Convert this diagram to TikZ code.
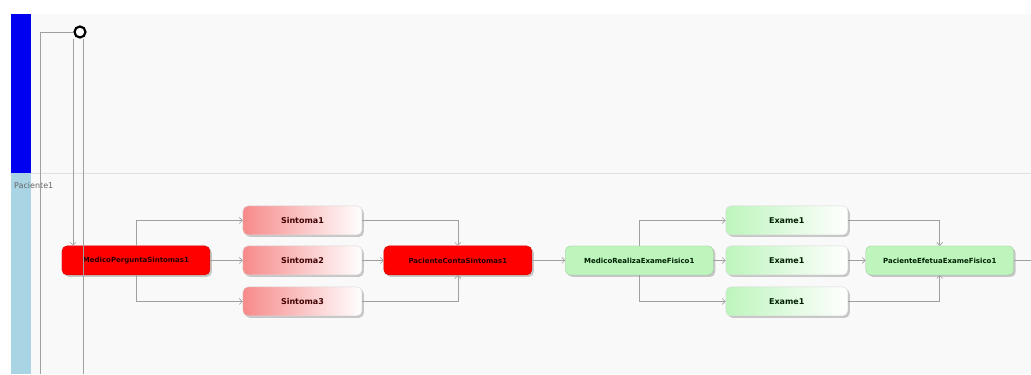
\documentclass[tikz,border=0pt]{standalone}
\usepackage{fontspec}
\setmainfont{DejaVu Sans}
\usetikzlibrary{arrows.meta,shadows}
\definecolor{lanebg}{HTML}{F9F9F9}
\definecolor{laneblue}{HTML}{0000F0}
\definecolor{lanelight}{HTML}{A8D4E4}
\definecolor{conncol}{HTML}{A0A0A0}
\definecolor{actred}{HTML}{FF0000}
\definecolor{actpink}{HTML}{F78A8A}
\definecolor{actgreen}{HTML}{BDF5BD}
\tikzset{
  actbase/.style={rounded corners=5pt, minimum height=29pt, inner sep=0pt,
    font=\fontsize{7}{8}\selectfont\bfseries,
    drop shadow={shadow xshift=2pt, shadow yshift=-2pt, fill=black!35, opacity=0.6}},
  redact/.style={actbase, fill=actred, draw=actred!85!black, line width=0.4pt,
    minimum width=148pt, text=black!85!red},
  pinkact/.style={actbase, left color=actpink, right color=white, draw=black!15,
    minimum width=119pt, text=black!75!red, font=\fontsize{8}{9}\selectfont\bfseries},
  greenact/.style={actbase, fill=actgreen, draw=actgreen!80!black, line width=0.3pt,
    minimum width=148pt, text=black!70!green!40!black},
  lgreenact/.style={actbase, left color=actgreen, right color=white, draw=black!15,
    minimum width=122pt, text=black!70!green!40!black, font=\fontsize{8}{9}\selectfont\bfseries},
  conn/.style={draw=conncol, line width=0.6pt},
  arr/.style={conn, -{Straight Barb[length=3pt,width=6pt]}},
  startnode/.style={circle, draw=black, line width=2.2pt, minimum size=11pt, inner sep=0pt, fill=white}
}
\begin{document}
\begin{tikzpicture}[x=1pt,y=-1pt]
  % canvas and lanes
  \path[fill=white] (0,0) rectangle (1031,374);
  \path[fill=lanebg] (31,14) rectangle (1031,374);
  \path[fill=laneblue] (11,14) rectangle (31,173);
  \path[fill=lanelight] (11,173) rectangle (31,374);
  \draw[black!12, line width=0.6pt] (31,173) -- (1031,173);
  \node[anchor=west, inner sep=0pt, font=\fontsize{8}{9}\selectfont, text=black!60] (lane) at (14,186) {Paciente1};

  % activities
  \node[startnode] (start) at (80,32) {};
  \node[redact] (mp) at (136,260.5) {MedicoPerguntaSintomas1};
  \node[pinkact] (s1) at (302.5,220.5) {Sintoma1};
  \node[pinkact] (s2) at (302.5,260.5) {Sintoma2};
  \node[pinkact] (s3) at (302.5,301.5) {Sintoma3};
  \node[redact] (pc) at (458,260.5) {PacienteContaSintomas1};
  \node[greenact] (mr) at (639.5,260.5) {MedicoRealizaExameFisico1};
  \node[lgreenact] (e1) at (787,220.5) {Exame1};
  \node[lgreenact] (e2) at (787,260.5) {Exame1};
  \node[lgreenact] (e3) at (787,301.5) {Exame1};
  \node[greenact] (pe) at (940,260.5) {PacienteEfetuaExameFisico1};

  % free ends
  \coordinate (leftend) at (40,374);
  \coordinate (midend) at (83,374);
  \coordinate (outend) at (1031,260.5);

  % connectors from the start node
  \draw[conn] (start.west) -| (leftend);
  \draw[arr] ([xshift=-7pt]start.south) -- ([xshift=-7pt]start.south |- mp.north);
  \draw[conn] ([xshift=3pt]start.south) -- ([xshift=3pt]start.south |- midend);

  % first fork and join
  \draw[arr] (mp.north) |- (s1.west);
  \draw[arr] (mp.east) -- (s2.west);
  \draw[arr] (mp.south) |- (s3.west);
  \draw[arr] (s1.east) -| (pc.north);
  \draw[arr] (s2.east) -- (pc.west);
  \draw[arr] (s3.east) -| (pc.south);
  \draw[arr] (pc.east) -- (mr.west);

  % second fork and join
  \draw[arr] (mr.north) |- (e1.west);
  \draw[arr] (mr.east) -- (e2.west);
  \draw[arr] (mr.south) |- (e3.west);
  \draw[arr] (e1.east) -| (pe.north);
  \draw[arr] (e2.east) -- (pe.west);
  \draw[arr] (e3.east) -| (pe.south);
  \draw[conn] (pe.east) -- (outend);
\end{tikzpicture}
\end{document}
